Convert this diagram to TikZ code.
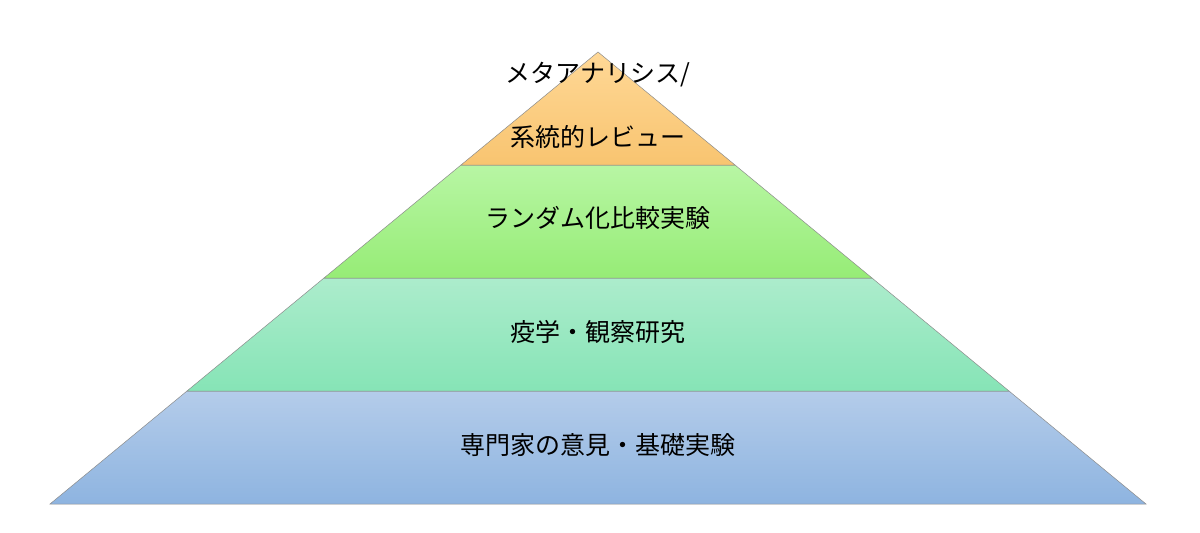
\documentclass[tikz,border=0pt]{standalone}
\usepackage{fontspec}
\newfontfamily\cjk{Noto Sans CJK JP}
\definecolor{topA}{RGB}{255,216,150}
\definecolor{topB}{RGB}{248,196,112}
\definecolor{rctA}{RGB}{184,246,164}
\definecolor{rctB}{RGB}{150,236,118}
\definecolor{epiA}{RGB}{172,236,204}
\definecolor{epiB}{RGB}{134,228,182}
\definecolor{expA}{RGB}{180,204,234}
\definecolor{expB}{RGB}{142,180,224}
\tikzset{every picture/.style={line width=0.6pt}}
\tikzset{layer/.style={draw={rgb,255:red,140;green,140;blue,140},line width=0.5pt},
  label/.style={font=\cjk\fontsize{25}{30}\selectfont,text=black}}

\begin{document}
\begin{tikzpicture}[x=1pt,y=1pt,yscale=-1,xscale=1]
	\useasboundingbox (0,0) rectangle (1200,533);

	%Layers
	\draw [layer,top color=expA,bottom color=expB] (187,391) -- (1009,391) -- (1146,504) -- (50,504) -- cycle ;
	\draw [layer,top color=epiA,bottom color=epiB] (324,278) -- (872,278) -- (1009,391) -- (187,391) -- cycle ;
	\draw [layer,top color=rctA,bottom color=rctB] (461,165) -- (735,165) -- (872,278) -- (324,278) -- cycle ;
	\draw [layer,top color=topA,bottom color=topB] (598,52) -- (735,165) -- (461,165) -- cycle ;

	% Text Node
	\node [label] (meta) at (598,75) {メタアナリシス/};
	% Text Node
	\node [label] (review) at (598,137) {系統的レビュー};
	% Text Node
	\node [label] (rct) at (598,218) {ランダム化比較実験};
	% Text Node
	\node [label] (epi) at (598,332) {疫学・観察研究};
	% Text Node
	\node [label] (expert) at (598,445) {専門家の意見・基礎実験};
\end{tikzpicture}
\end{document}
